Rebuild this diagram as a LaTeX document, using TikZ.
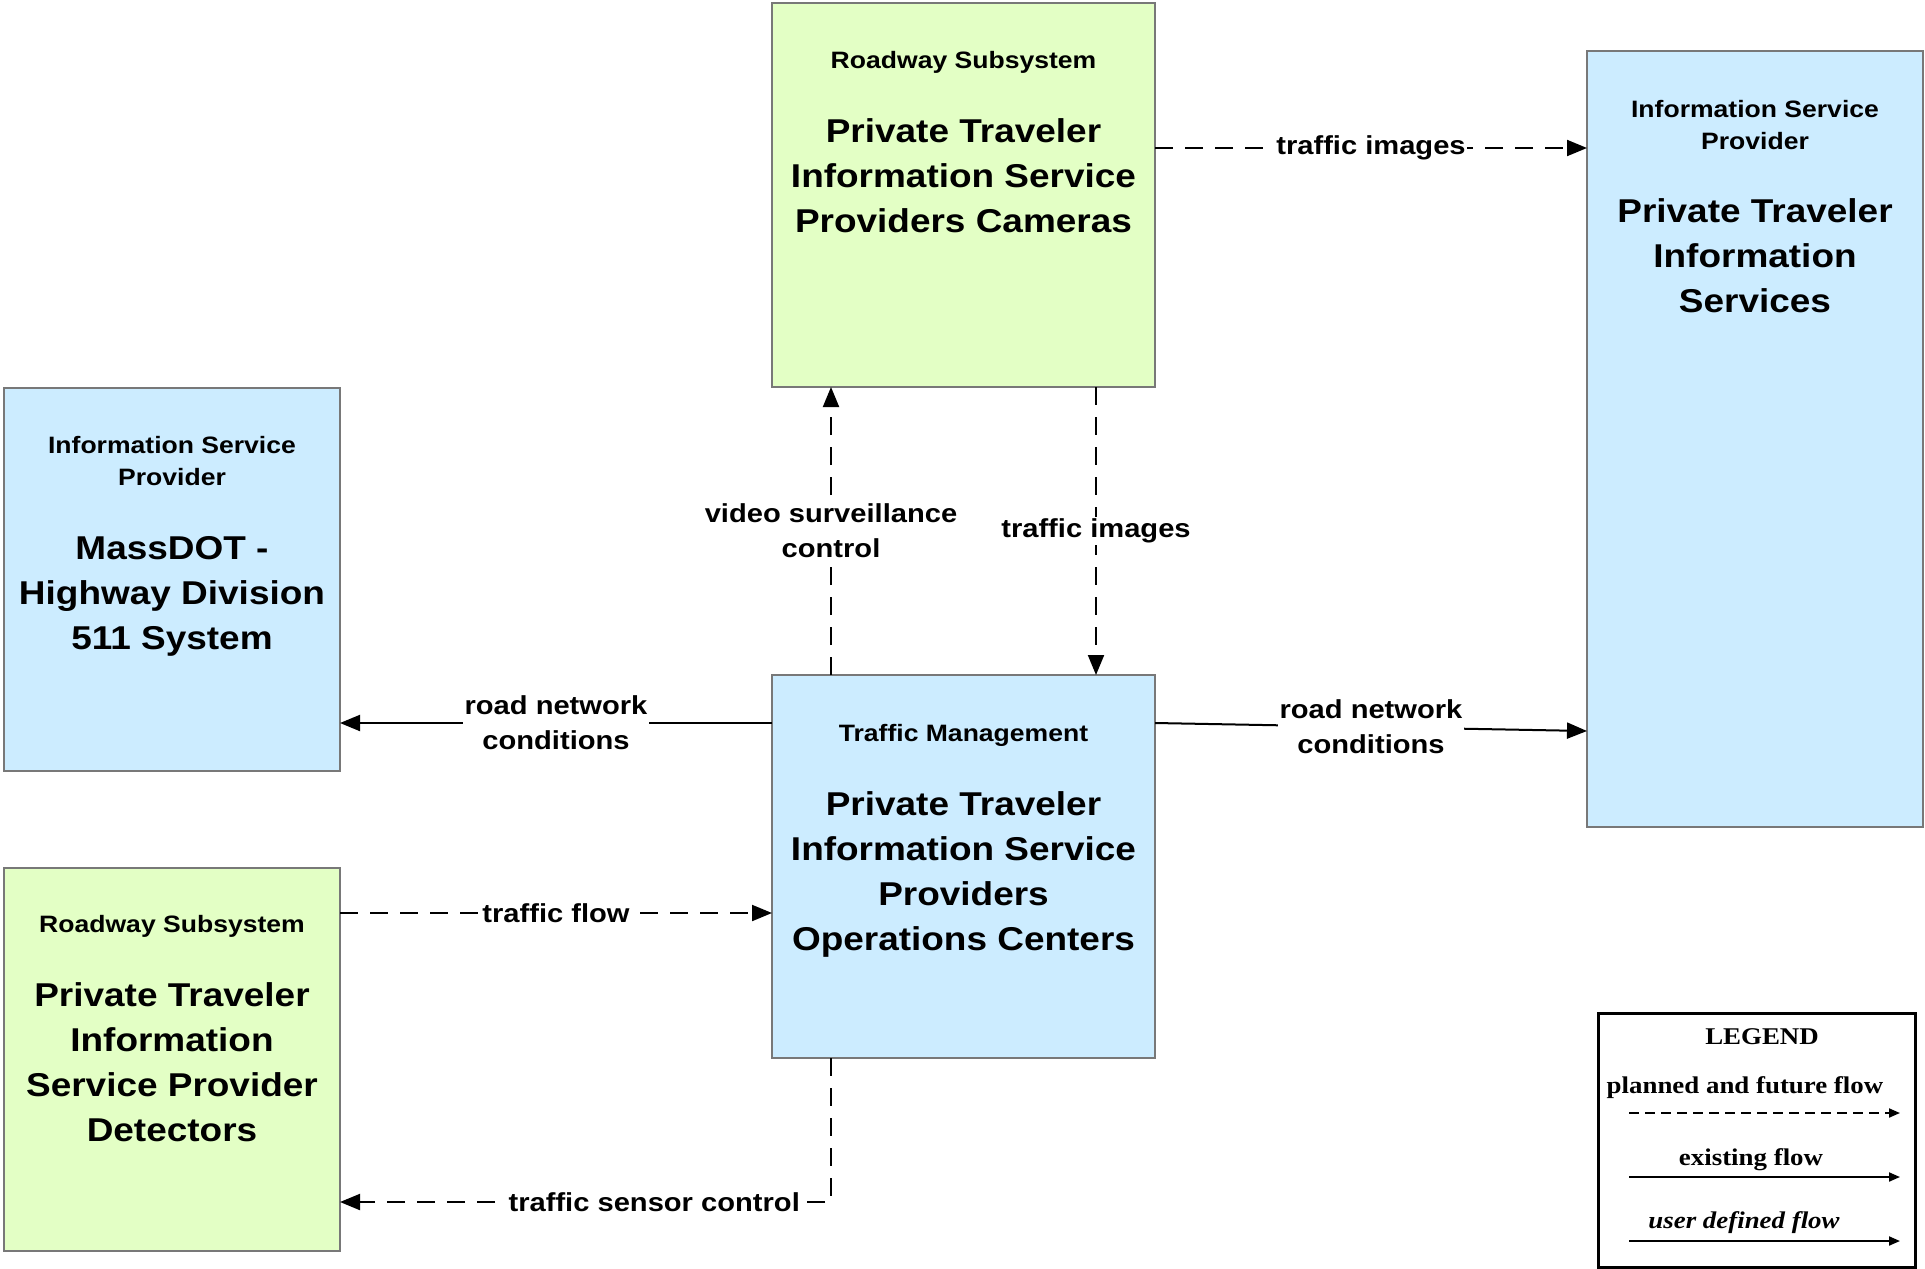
\documentclass[tikz,border=0pt]{standalone}
\usepackage{fontspec}
\setmainfont{Liberation Sans}
\newfontfamily\arialx[FakeStretch=1.12]{Liberation Sans}
\newfontfamily\timesx[FakeStretch=1.12]{Liberation Serif}
\usetikzlibrary{arrows.meta,calc}
\definecolor{boxgreen}{RGB}{227,255,197}
\definecolor{boxblue}{RGB}{204,236,255}
\definecolor{boxline}{RGB}{120,120,120}
\begin{document}
\begin{tikzpicture}[x=1pt,y=-1pt,
 box/.style={draw=boxline, line width=1.5pt, anchor=north west, inner sep=0pt, outer sep=0pt},
 gbox/.style={box, fill=boxgreen},
 bbox/.style={box, fill=boxblue},
 bigt/.style={font=\arialx\bfseries\fontsize{33}{45}\selectfont, align=center, inner sep=0pt},
 subt/.style={font=\arialx\bfseries\fontsize{23.7}{32}\selectfont, align=center, inner sep=0pt},
 lbl/.style={font=\arialx\bfseries\fontsize{26}{35}\selectfont, align=center, fill=white, inner sep=1.5pt},
 flow/.style={line width=2pt, -{Triangle[length=20pt,width=16pt]}},
 flowd/.style={flow, dash pattern=on 18pt off 12pt},
 legt/.style={font=\timesx\bfseries\fontsize{24}{28}\selectfont, inner sep=0pt},
 legflow/.style={line width=2pt, -{Triangle[length=11pt,width=9pt]}},
 legflowd/.style={legflow, dash pattern=on 10pt off 6pt},
]
\useasboundingbox (0,0) rectangle (1925,1269);

% boxes
\node[gbox, minimum width=383pt, minimum height=384pt] (cam) at (772,3) {};
\node[bbox, minimum width=336pt, minimum height=776pt] (isp) at (1587,51) {};
\node[bbox, minimum width=336pt, minimum height=383pt] (mdot) at (4,388) {};
\node[bbox, minimum width=383pt, minimum height=383pt] (tm) at (772,675) {};
\node[gbox, minimum width=336pt, minimum height=383pt] (det) at (4,868) {};
\node[draw, line width=3pt, anchor=north west, inner sep=0pt, outer sep=0pt,
      minimum width=317pt, minimum height=254pt] (leg) at (1598,1013) {};

% box texts
\node[subt] (camsub) at (963.5,62.5) {Roadway Subsystem};
\node[bigt] (camtitle) at (963.5,176) {Private Traveler\\Information Service\\Providers Cameras};

\node[subt] (ispsub) at (1755,125.5) {Information Service\\Provider};
\node[bigt] (isptitle) at (1755,256) {Private Traveler\\Information\\Services};

\node[subt] (mdotsub) at (172,461.5) {Information Service\\Provider};
\node[bigt] (mdottitle) at (172,596) {MassDOT -\\Highway Division\\511 System};

\node[subt] (tmsub) at (963.5,735.5) {Traffic Management};
\node[bigt] (tmtitle) at (963.5,874) {Private Traveler\\Information Service\\Providers\\Operations Centers};

\node[subt] (detsub) at (172,926.5) {Roadway Subsystem};
\node[bigt] (dettitle) at (172,1062.5) {Private Traveler\\Information\\Service Provider\\Detectors};

% connectors
\coordinate (c1) at ([yshift=-145pt]cam.north east);
\draw[flowd] (c1) -- (c1 -| isp.west) node[midway, lbl] (lab1) {traffic images};

\coordinate (c2) at ([xshift=59pt]tm.north west);
\draw[flowd] (c2) -- (c2 |- cam.south) node[midway, lbl] (lab2) {video surveillance\\control};

\coordinate (c3) at ([xshift=-59pt]cam.south east);
\draw[flowd] (c3) -- (c3 |- tm.north) node[midway, lbl] (lab3) {traffic images};

\coordinate (c4) at ([yshift=-48pt]tm.north west);
\draw[flow] (c4) -- (c4 -| mdot.east) node[midway, lbl] (lab4) {road network\\conditions};

\coordinate (c5) at ([yshift=-48pt]tm.north east);
\coordinate (c5b) at ([yshift=-680pt]isp.north west);
\draw[flow] (c5) -- (c5b) node[midway, lbl] (lab5) {road network\\conditions};

\coordinate (c6) at ([yshift=-45pt]det.north east);
\draw[flowd] (c6) -- (c6 -| tm.west) node[midway, lbl] (lab6) {traffic flow};

\coordinate (c7) at ([xshift=59pt]tm.south west);
\coordinate (c7b) at ([yshift=-334pt]det.north east);
\draw[flowd] (c7) |- (c7b) node[pos=0.68, lbl] (lab7) {traffic sensor control};

% legend
\node[legt] (legtitle) at (1762,1037) {LEGEND};
\node[legt] (legp) at (1745,1088) {planned and future flow};
\node[legt] (lege) at (1751,1160) {existing flow};
\node[legt, font=\timesx\bfseries\itshape\fontsize{24}{28}\selectfont] (legu) at (1744,1223) {user defined flow};
\coordinate (lp1) at (1629,1113);
\coordinate (lp2) at (1900,1113);
\coordinate (le1) at (1629,1177);
\coordinate (le2) at (1900,1177);
\coordinate (lu1) at (1629,1241);
\coordinate (lu2) at (1900,1241);
\draw[legflowd] (lp1) -- (lp2);
\draw[legflow] (le1) -- (le2);
\draw[legflow] (lu1) -- (lu2);
\end{tikzpicture}
\end{document}
